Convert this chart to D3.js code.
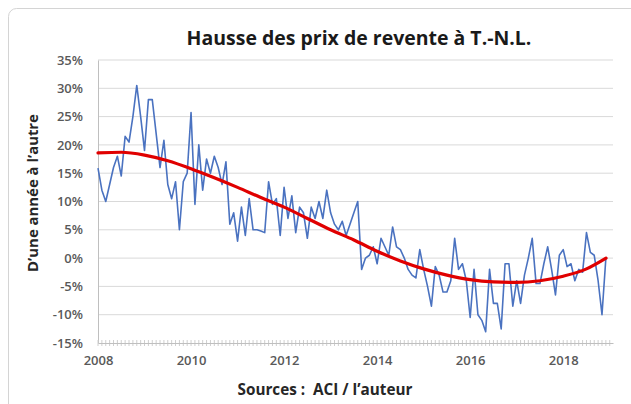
<!DOCTYPE html>
<html><head><meta charset="utf-8">
<script src="https://cdn.jsdelivr.net/npm/d3@7"></script>
<style>body{margin:0;background:#fff}svg{display:block}</style>
</head><body>
<svg id="c" width="631" height="404"></svg>
<script>
// Monthly year-over-year change (%) Jan 2008 - Dec 2018
const startYear = 2008;
const monthlyValues = [
 15.9,12,10,13,16,18,14.5,21.5,20.5,25,30.5,25,
 19,28,28,22,16,20.8,13,10.5,13.5,5,13.5,15,
 25.7,9.5,20,12,17.5,15,18,16,13,17,6,8,
 3,9,4,10.5,5,5,4.8,4.5,13.5,9.5,10.5,4,
 12.5,7,11,4.5,9,8,3.5,9,7,10,7,12,
 8,6,5,6.5,4,6,8,10,-2,0,0.5,2,
 -1,3.5,2,0.5,5.5,2,1.5,0,-2,-3,-3.5,1.5,
 -2,-5,-8.5,-1.5,-3,-6,-6,-4,3.5,-2,-1,-4,
 -10.5,-2,-10,-11,-13,-2,-8,-8,-12.5,-1,-1,-8.5,
 -4,-8,-3,0,3.5,-4.5,-4.5,-1,2,-2,-6.5,0.5,
 1.5,-1.5,-1,-4,-2,-2.5,4.5,1,0.5,-4,-10,0
];
// Trend line
const trendYears = [2008,2008.5,2009,2009.5,2010,2010.5,2011,2011.5,2012,2012.5,2013,2013.5,2014,2014.5,2015,2015.5,2016,2016.5,2017,2017.5,2018,2018.5,2018.92];
const trendValues = [18.6,18.7,18.2,17.2,15.8,14.2,12.5,10.7,9.0,7.0,5.0,3.2,1.2,-0.5,-1.9,-3.0,-3.8,-4.2,-4.3,-4.0,-3.2,-1.9,0];
const yTicks = [35,30,25,20,15,10,5,0,-5,-10,-15];
const xTicks = [2008,2010,2012,2014,2016,2018];
const title = "Hausse des prix de revente à T.-N.L.";
const yTitle = "D’une année à l’autre";
const xTitle = "Sources :  ACI / l’auteur";

const svg = d3.select("#c");
const font = "'Open Sans', Lato, sans-serif";
const pL = 98, pR = 613, pT = 60, pB = 343;

svg.append("rect").attr("x",8.5).attr("y",8.5).attr("width",640).attr("height",420)
  .attr("rx",8).attr("fill","#fff").attr("stroke","#d4d4d4");

const x = d3.scaleLinear().domain([2008, 2019.07]).range([pL, pR]);
const y = d3.scaleLinear().domain([-15, 35]).range([pB, pT]);

// grid
svg.append("g").selectAll("line").data(yTicks.filter(d=>d>-15)).join("line")
  .attr("x1",pL).attr("x2",pR).attr("y1",d=>y(d)).attr("y2",d=>y(d))
  .attr("stroke","#d9d9d9").attr("stroke-width",1);

// y axis
const ya = svg.append("g").attr("transform",`translate(${pL},0)`)
  .call(d3.axisLeft(y).tickValues(yTicks).tickFormat(d=>d+"%").tickSize(0).tickPadding(15));
ya.select(".domain").attr("stroke","#bfbfbf");
ya.selectAll("text").attr("font-family",font).attr("font-size",13).attr("font-weight",600).attr("fill","#595959");

// x axis
const months = d3.range(0, 133).map(i => startYear + i/12);
svg.append("g").selectAll("line").data(months).join("line")
  .attr("x1",d=>x(d)).attr("x2",d=>x(d)).attr("y1",pB-3).attr("y2",pB+3)
  .attr("stroke","#cfcfcf").attr("stroke-width",1);
const xa = svg.append("g").attr("transform",`translate(0,${pB})`)
  .call(d3.axisBottom(x).tickValues(xTicks).tickFormat(d3.format("d")).tickSize(0).tickPadding(13));
xa.select(".domain").attr("stroke","#bfbfbf");
xa.selectAll("text").attr("font-family",font).attr("font-size",13).attr("font-weight",600).attr("fill","#595959");

// series
const line = d3.line().x((d,i)=>x(startYear + i/12)).y(d=>y(d));
svg.append("path").datum(monthlyValues).attr("d",line)
  .attr("fill","none").attr("stroke","#4a72c0").attr("stroke-width",1.6).attr("stroke-linejoin","round");

const tline = d3.line().x((d,i)=>x(trendYears[i])).y(d=>y(d)).curve(d3.curveMonotoneX);
svg.append("path").datum(trendValues).attr("d",tline)
  .attr("fill","none").attr("stroke","#e00000").attr("stroke-width",3.2).attr("stroke-linecap","round");

// texts, sized to fit the widths seen in the reference
function fit(sel, target, size){
  const w = sel.node().getComputedTextLength();
  sel.attr("font-size", size * target / w);
}
const t = svg.append("text").attr("x",359).attr("y",45).attr("text-anchor","middle")
  .attr("font-family",font).attr("font-size",16).attr("font-weight","bold").attr("fill","#1a1a1a").text(title);
fit(t, 345, 16);
const yt = svg.append("text").attr("transform",`translate(38,193) rotate(-90)`).attr("text-anchor","middle")
  .attr("font-family",font).attr("font-size",13).attr("font-weight","bold").attr("fill","#262626").text(yTitle);
fit(yt, 158, 13);
const xt = svg.append("text").attr("x",325).attr("y",395).attr("text-anchor","middle")
  .attr("xml:space","preserve").style("white-space","pre")
  .attr("font-family",font).attr("font-size",13).attr("font-weight","bold").attr("fill","#262626").text(xTitle);
fit(xt, 175, 13);
</script>
</body></html>
